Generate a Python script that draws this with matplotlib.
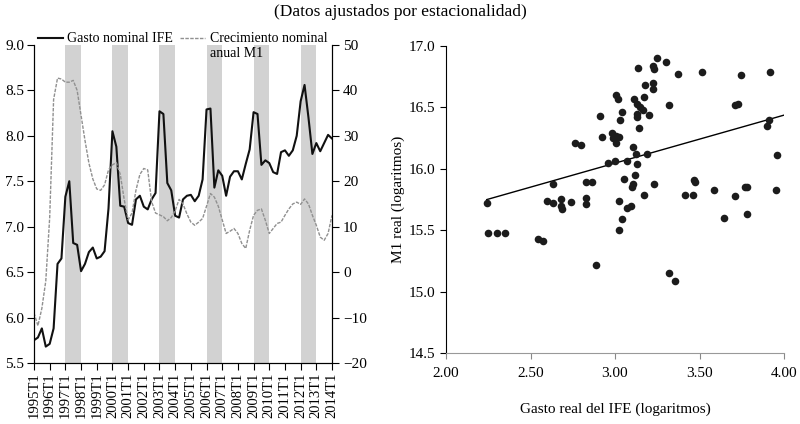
import matplotlib
matplotlib.use('Agg')

import numpy as np
from matplotlib import pyplot as plt

plt.rcParams['font.family'] = ['Liberation Serif', 'DejaVu Serif']

# Panel izquierdo: series trimestrales 1995T1 - 2014T1
gasto_nominal = [5.75, 5.78, 5.88, 5.68, 5.71, 5.88, 6.59, 6.65, 7.33, 7.50,
                 6.82, 6.80, 6.51, 6.59, 6.72, 6.77, 6.65, 6.67, 6.73, 7.20,
                 8.05, 7.88, 7.23, 7.22, 7.04, 7.02, 7.30, 7.34, 7.22, 7.19,
                 7.30, 7.37, 8.27, 8.24, 7.48, 7.40, 7.12, 7.10, 7.30, 7.34,
                 7.35, 7.28, 7.34, 7.52, 8.29, 8.30, 7.43, 7.62, 7.56, 7.34,
                 7.55, 7.61, 7.61, 7.52, 7.69, 7.85, 8.26, 8.24, 7.68, 7.73,
                 7.70, 7.60, 7.58, 7.82, 7.84, 7.78, 7.84, 8.00, 8.38, 8.56,
                 8.20, 7.80, 7.92, 7.83, 7.92, 8.01, 7.97]

crecimiento_m1 = [-9.0, -11.8, -8.0, -2.0, 12.0, 38.0, 42.7, 42.5, 41.8, 41.8,
                  42.2, 40.0, 34.5, 29.0, 24.0, 20.5, 18.3, 18.0, 19.2, 22.5,
                  23.6, 24.1, 21.5, 16.0, 11.5, 13.0, 18.0, 21.5, 22.8, 22.5,
                  15.5, 13.0, 12.6, 12.2, 11.3, 12.0, 13.5, 16.0, 15.0, 12.8,
                  11.0, 10.3, 11.0, 11.8, 14.5, 17.3, 16.5, 14.5, 11.5, 8.5,
                  9.0, 9.6, 8.5, 6.3, 5.2, 9.2, 12.5, 13.6, 13.9, 11.4,
                  8.5, 9.6, 10.7, 11.0, 12.5, 13.9, 15.0, 15.4, 14.9, 16.1,
                  15.0, 12.5, 10.3, 7.7, 7.0, 8.5, 12.5]

anios = list(range(1995, 2015))
etiquetas_x = [str(a) + 'T1' for a in anios]
anios_sombreados = [1997, 2000, 2003, 2006, 2009, 2012]

# Panel derecho: dispersión
gasto_real = [2.241, 2.250, 2.300, 2.349, 2.546, 2.572, 2.596, 2.631, 2.635, 2.678,
              2.678, 2.684, 2.738, 2.763, 2.797, 2.828, 2.865, 2.828, 2.828, 2.888,
              2.911, 2.921, 2.961, 2.980, 2.986, 3.006, 3.026, 3.006, 3.000, 3.006,
              3.020, 3.040, 3.030, 3.021, 3.053, 3.073, 3.071, 3.095, 3.041, 3.021,
              3.138, 3.112, 3.128, 3.148, 3.164, 3.172, 3.128, 3.132, 3.144, 3.108,
              3.124, 3.132, 3.118, 3.099, 3.108, 3.178, 3.227, 3.227, 3.227, 3.231,
              3.247, 3.302, 3.203, 3.191, 3.231, 3.173, 3.322, 3.375, 3.513, 3.416,
              3.461, 3.469, 3.475, 3.588, 3.712, 3.767, 3.779, 3.709, 3.728, 3.748,
              3.915, 3.911, 3.900, 3.959, 3.951, 3.646, 3.783, 3.322, 3.356]
m1_real = [15.72, 15.48, 15.48, 15.48, 15.43, 15.41, 15.74, 15.875, 15.72, 15.75,
           15.70, 15.67, 15.73, 16.21, 16.19, 15.89, 15.89, 15.76, 15.71, 15.22,
           16.43, 16.26, 16.05, 16.29, 16.25, 16.27, 16.26, 16.21, 16.06, 16.60,
           16.57, 16.46, 16.40, 15.74, 15.92, 16.06, 15.68, 15.70, 15.59, 15.50,
           16.82, 16.57, 16.53, 16.50, 16.48, 16.585, 16.45, 16.42, 16.33, 16.18,
           16.12, 16.04, 15.95, 15.85, 15.88, 16.68, 16.70, 16.65, 16.84, 16.81,
           16.90, 16.87, 16.44, 16.12, 15.875, 15.79, 16.52, 16.77, 16.79, 15.79,
           15.79, 15.91, 15.89, 15.83, 15.78, 15.85, 15.85, 16.52, 16.53, 16.76,
           16.79, 16.40, 16.35, 16.11, 15.83, 15.60, 15.63, 15.15, 15.09]

# Recta de tendencia
tendencia_pendiente = 0.391
tendencia_ordenada = 14.873

estilo_m1 = (0, (2.5, 1.0))
gris_m1 = '#909090'

fig = plt.figure(figsize=(8.0, 4.24), dpi=100)

fig.text(0.5, 0.972, '(Datos ajustados por estacionalidad)', ha='center', va='center', fontsize=12.5)


# ---- Panel izquierdo ----
ax1 = fig.add_axes([0.0425, 0.144, 0.3725, 0.750])
t = np.arange(len(gasto_nominal))

for a in anios_sombreados:
    q = (a - 1995) * 4
    ax1.axvspan(q, q + 4, color='#d2d2d2', lw=0, zorder=0)

ax1.plot(t, gasto_nominal, color='#111111', lw=1.5, zorder=3)
ax1.set_xlim(0, 76)
ax1.set_ylim(5.5, 9.0)
ax1.set_yticks(np.arange(5.5, 9.01, 0.5))
ax1.set_yticklabels(['%.1f' % v for v in np.arange(5.5, 9.01, 0.5)])
ax1.set_xticks([(a - 1995) * 4 for a in anios])
ax1.set_xticklabels(etiquetas_x, rotation=90)
ax1.tick_params(axis='x', labelsize=10.5, length=5, direction='out', pad=2)
ax1.tick_params(axis='y', labelsize=11, length=5, direction='out', pad=2)
ax1.spines['top'].set_visible(False)

ax2 = ax1.twinx()
ax2.plot(t, crecimiento_m1, color=gris_m1, lw=1.0, linestyle=estilo_m1, zorder=2)
ax2.set_ylim(-20, 50)
ax2.set_yticks(np.arange(-20, 51, 10))
ax2.set_yticklabels([str(v).replace('-', '\u2212') for v in range(-20, 51, 10)])
ax2.tick_params(axis='y', labelsize=11, length=5, direction='out', pad=3)
ax2.spines['top'].set_visible(False)

l1, = ax1.plot([], [], color='#111111', lw=1.5)
l2, = ax1.plot([], [], color=gris_m1, lw=1.0, linestyle=estilo_m1)
leg = ax1.legend([l1, l2], ['Gasto nominal IFE', 'Crecimiento nominal'], ncol=2,
                 loc='center left', bbox_to_anchor=(0.012, 1.019), frameon=False,
                 fontsize=10, handlelength=1.8, handletextpad=0.35,
                 columnspacing=0.5, borderaxespad=0, borderpad=0)
ax1.text(0.59, 0.995, 'anual M1', transform=ax1.transAxes, fontsize=10, va='top', ha='left')


# ---- Panel derecho ----
ax3 = fig.add_axes([0.5575, 0.1675, 0.4225, 0.724])
ax3.scatter(gasto_real, m1_real, s=30, color='#1c1c1c', lw=0, zorder=3)

xs = np.array([min(gasto_real), 4.0])
ax3.plot(xs, tendencia_ordenada + tendencia_pendiente * xs, color='black', lw=1.0, zorder=2)

ax3.set_xlim(2.0, 4.0)
ax3.set_ylim(14.5, 17.0)
ax3.set_xticks(np.arange(2.0, 4.01, 0.5))
ax3.set_xticklabels(['%.2f' % v for v in np.arange(2.0, 4.01, 0.5)])
ax3.set_yticks(np.arange(14.5, 17.01, 0.5))
ax3.set_yticklabels(['%.1f' % v for v in np.arange(14.5, 17.01, 0.5)])
ax3.tick_params(axis='both', labelsize=11, length=4, direction='out')
ax3.tick_params(axis='x', colors='#888888', labelcolor='black', pad=6)
ax3.spines['top'].set_visible(False)
ax3.spines['right'].set_visible(False)
ax3.spines['bottom'].set_color('#999999')
ax3.set_xlabel('Gasto real del IFE (logaritmos)', fontsize=11, labelpad=16)
ax3.set_ylabel('M1 real (logaritmos)', fontsize=11, labelpad=3)

fig.savefig('out.png', dpi=100)
